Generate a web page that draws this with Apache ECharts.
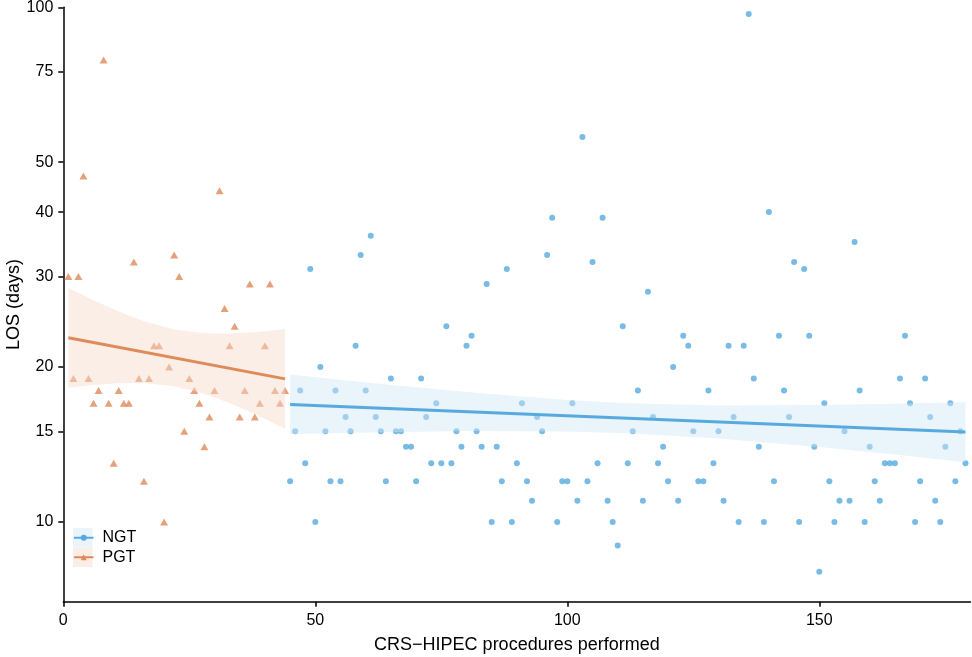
<!DOCTYPE html>
<html>
<head>
<meta charset="utf-8">
<script src="https://cdn.jsdelivr.net/npm/echarts@6/dist/echarts.min.js"></script>
<style>
  html, body { margin: 0; padding: 0; background: #fff; }
  #main { width: 972px; height: 657px; }
</style>
</head>
<body>
<div id="main"></div>
<script>
// PGT patients (procedures 1-44)
var pgtProcedure = [1,2,3,4,5,6,7,8,9,10,11,12,13,14,15,16,17,18,19,20,21,22,
  23,24,25,26,27,28,29,30,31,32,33,34,35,36,37,38,39,40,41,42,43,44];
var pgtLos = [30,19,30,47,19,17,18,79,17,13,18,17,17,32,19,12,19,22,22,10,20,33,
  30,15,19,18,17,14,16,18,44,26,22,24,16,18,29,16,17,22,29,18,17,18];

// NGT patients (procedures 45-179)
var ngtProcedure = [45,46,47,48,49,50,51,52,53,54,55,56,57,58,59,60,61,62,63,64,
  65,66,67,68,69,70,71,72,73,74,75,76,77,78,79,80,81,82,83,84,85,86,87,88,89,90,
  91,92,93,94,95,96,97,98,99,100,101,102,103,104,105,106,107,108,109,110,111,112,
  113,114,115,116,117,118,119,120,121,122,123,124,125,126,127,128,129,130,131,132,
  133,134,135,136,137,138,139,140,141,142,143,144,145,146,147,148,149,150,151,152,
  153,154,155,156,157,158,159,160,161,162,163,164,165,166,167,168,169,170,171,172,
  173,174,175,176,177,178,179];
var ngtLos = [12,15,18,13,31,10,20,15,12,18,
  12,16,15,22,33,18,36,16,15,12,
  19,15,15,14,14,12,19,16,13,17,
  13,24,13,15,14,22,23,15,14,29,
  10,14,12,31,10,13,17,12,11,16,
  15,33,39,10,12,12,17,11,56,12,
  32,13,39,11,10,9,24,13,15,18,
  11,28,16,13,14,12,20,11,23,22,
  15,12,12,18,13,15,11,22,16,10,
  22,97,19,14,10,40,12,23,18,16,
  32,10,31,23,14,8,17,12,10,11,
  15,11,35,18,10,14,12,11,13,13,
  13,19,23,17,10,12,19,16,11,10,
  14,17,12,15,13];

// fitted lines (end points) and confidence bands
var pgtFitX = [1, 44];
var pgtFitLos = [22.8, 18.97];
var ngtFitX = [45, 179];
var ngtFitLos = [16.92, 14.95];

var pgtBandX = [1, 6, 11, 16, 22, 28, 33, 38, 44];
var pgtBandUpper = [28.5, 26.97, 25.63, 24.55, 23.66, 23.26, 23.23, 23.38, 23.72];
var pgtBandLower = [18.23, 18.45, 18.6, 18.62, 18.36, 17.75, 17.02, 16.21, 15.18];

var ngtBandX = [45, 60, 80, 100, 112, 130, 150, 165, 179];
var ngtBandUpper = [19.35, 18.67, 17.88, 17.25, 17.0, 16.84, 16.87, 16.97, 17.09];
var ngtBandLower = [14.8, 14.92, 15.02, 14.99, 14.87, 14.53, 13.98, 13.52, 13.07];

var xTicks = [0, 50, 100, 150];
var yTicks = [10, 15, 20, 30, 40, 50, 75, 100];

var BLUE = '#56AADF';
var ORANGE = '#DF8A5A';
var FONT = 'Liberation Sans';

function zip(xs, ys) {
  return xs.map(function (x, i) { return [x, ys[i]]; });
}

function bandSeries(name, xs, up, lo, fill) {
  return {
    type: 'custom',
    name: name,
    z: 3,
    silent: true,
    clip: true,
    data: xs.map(function (x, i) { return [x, up[i], lo[i]]; }),
    encode: { x: 0, y: [1, 2] },
    renderItem: function (params, api) {
      if (params.dataIndex !== 0) return null;
      var top = xs.map(function (x, i) { return api.coord([x, up[i]]); });
      var bottom = xs.map(function (x, i) { return api.coord([x, lo[i]]); }).reverse();
      return {
        type: 'polygon',
        shape: { points: top.concat(bottom) },
        style: { fill: fill }
      };
    }
  };
}

var chart = echarts.init(document.getElementById('main'), null, { renderer: 'canvas' });

var option = {
  backgroundColor: '#fff',
  animation: false,
  textStyle: { fontFamily: FONT },
  grid: { left: 63.3, right: 1.5, top: 7.3, bottom: 55.3, containLabel: false, outerBoundsMode: 'none' },
  legend: {
    data: ['NGT', 'PGT'],
    orient: 'vertical',
    left: 73,
    top: 528,
    padding: 0,
    itemWidth: 19.5,
    itemHeight: 7.5,
    itemGap: 0,
    textStyle: { fontFamily: FONT, fontSize: 16, color: '#000', lineHeight: 19.5, padding: [0, 0, 0, 4] }
  },
  graphic: [
    { type: 'rect', left: 73, top: 528, z: 0, shape: { width: 19.5, height: 19.5 }, style: { fill: '#EAF4FB' } },
    { type: 'rect', left: 73, top: 547.5, z: 0, shape: { width: 19.5, height: 19.5 }, style: { fill: '#FBEEE7' } }
  ],
  xAxis: {
    type: 'value',
    min: 0,
    max: 180,
    interval: 50,
    name: 'CRS\u2212HIPEC procedures performed',
    nameLocation: 'middle',
    nameGap: 34,
    nameMoveOverlap: false,
    nameTextStyle: { fontFamily: FONT, fontSize: 18, color: '#000' },
    axisLine: { lineStyle: { color: '#000', width: 1.5 } },
    axisTick: { length: 5, lineStyle: { color: '#000', width: 1.5 }, customValues: xTicks },
    axisLabel: { fontFamily: FONT, fontSize: 16, color: '#000', margin: 11, customValues: xTicks },
    splitLine: { show: false }
  },
  yAxis: {
    type: 'log',
    logBase: 10,
    min: 7,
    max: 100,
    name: 'LOS (days)',
    nameLocation: 'middle',
    nameGap: 40,
    nameMoveOverlap: false,
    nameTextStyle: { fontFamily: FONT, fontSize: 18, color: '#000' },
    axisLine: { lineStyle: { color: '#000', width: 1.5 } },
    axisTick: { length: 5, lineStyle: { color: '#000', width: 1.5 }, customValues: yTicks },
    axisLabel: { fontFamily: FONT, fontSize: 16, color: '#000', margin: 10, customValues: yTicks },
    splitLine: { show: false },
    minorTick: { show: false }
  },
  series: [
    {
      type: 'scatter', name: 'NGT points', z: 2,
      symbol: 'circle', symbolSize: 6,
      itemStyle: { color: BLUE },
      data: zip(ngtProcedure, ngtLos)
    },
    {
      type: 'scatter', name: 'PGT points', z: 2,
      symbol: 'triangle', symbolSize: [8, 7],
      itemStyle: { color: ORANGE },
      data: zip(pgtProcedure, pgtLos)
    },
    bandSeries('NGT band', ngtBandX, ngtBandUpper, ngtBandLower, 'rgba(208,230,246,0.45)'),
    bandSeries('PGT band', pgtBandX, pgtBandUpper, pgtBandLower, 'rgba(246,217,201,0.45)'),
    {
      type: 'line', name: 'NGT', z: 4,
      symbol: 'circle', symbolSize: 6, showSymbol: false,
      lineStyle: { color: BLUE, width: 3 },
      itemStyle: { color: BLUE },
      data: zip(ngtFitX, ngtFitLos)
    },
    {
      type: 'line', name: 'PGT', z: 4,
      symbol: 'triangle', symbolSize: 6, showSymbol: false,
      lineStyle: { color: ORANGE, width: 3 },
      itemStyle: { color: ORANGE },
      data: zip(pgtFitX, pgtFitLos)
    }
  ]
};

chart.setOption(option);
</script>
</body>
</html>
